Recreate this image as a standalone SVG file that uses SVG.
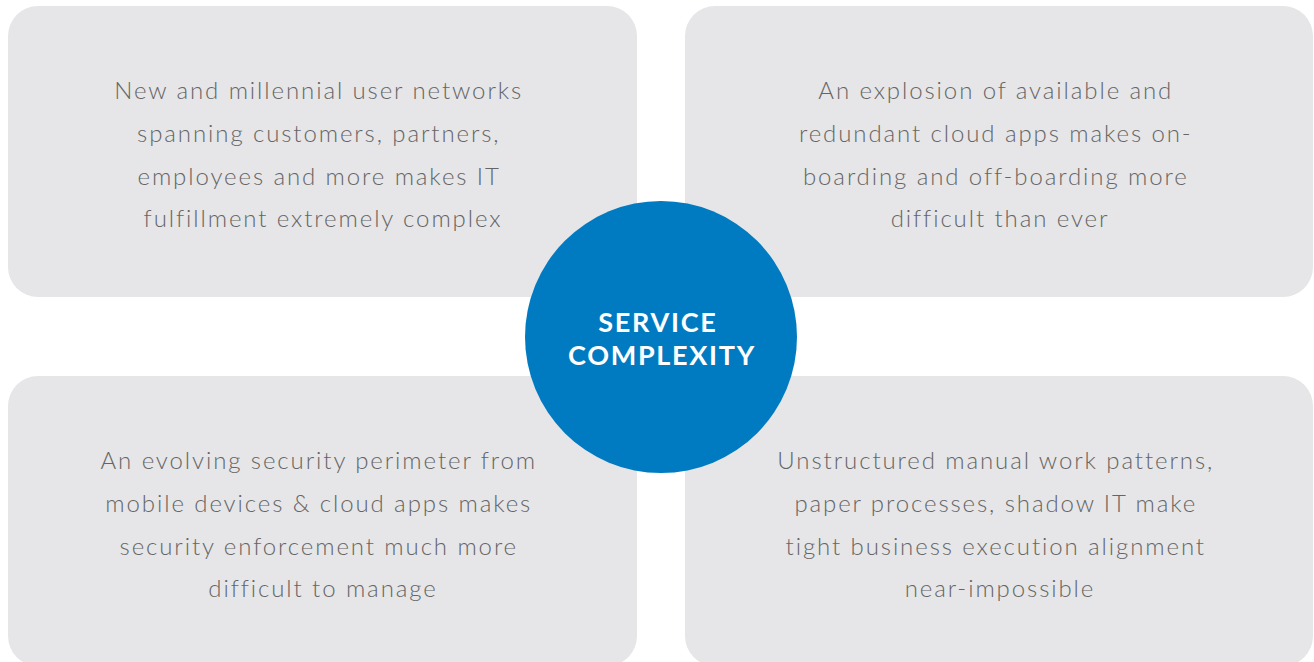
<svg xmlns="http://www.w3.org/2000/svg" width="1314" height="662" viewBox="0 0 1314 662">
  <style>
    .card { fill: #e6e6e8; }
    .body { font-family: Lato, "Open Sans", "Liberation Sans", sans-serif; font-weight: 300; font-size: 24px; fill: #656565; text-anchor: middle; letter-spacing: 1.9px; }
    .hub { fill: #007bc1; }
    .hub-label { font-family: Lato, "Open Sans", "Liberation Sans", sans-serif; font-weight: 700; font-size: 27px; fill: #ffffff; text-anchor: middle; letter-spacing: 1.7px; }
  </style>

  <!-- four quadrant cards -->
  <g id="card-users">
    <rect class="card" x="8" y="6" width="629" height="291" rx="30" ry="30"/>
    <text class="body">
      <tspan x="323" y="99">New and millennial user networks</tspan>
      <tspan x="323" y="142">spanning customers, partners,</tspan>
      <tspan x="323" y="185">employees and more makes IT</tspan>
      <tspan x="323" y="227">fulfillment extremely complex</tspan>
    </text>
  </g>

  <g id="card-apps">
    <rect class="card" x="685" y="6" width="628" height="291" rx="30" ry="30"/>
    <text class="body">
      <tspan x="1000" y="99">An explosion of available and</tspan>
      <tspan x="1000" y="142">redundant cloud apps makes on-</tspan>
      <tspan x="1000" y="185">boarding and off-boarding more</tspan>
      <tspan x="1000" y="227">difficult than ever</tspan>
    </text>
  </g>

  <g id="card-security">
    <rect class="card" x="8" y="376" width="629" height="290" rx="30" ry="30"/>
    <text class="body">
      <tspan x="323" y="469">An evolving security perimeter from</tspan>
      <tspan x="323" y="512">mobile devices &amp; cloud apps makes</tspan>
      <tspan x="323" y="555">security enforcement much more</tspan>
      <tspan x="323" y="597">difficult to manage</tspan>
    </text>
  </g>

  <g id="card-work">
    <rect class="card" x="685" y="376" width="628" height="290" rx="30" ry="30"/>
    <text class="body">
      <tspan x="1000" y="469">Unstructured manual work patterns,</tspan>
      <tspan x="1000" y="512">paper processes, shadow IT make</tspan>
      <tspan x="1000" y="555">tight business execution alignment</tspan>
      <tspan x="1000" y="597">near-impossible</tspan>
    </text>
  </g>

  <!-- central hub -->
  <g id="hub">
    <circle class="hub" cx="661" cy="337" r="136"/>
    <text class="hub-label">
      <tspan x="662" y="332">SERVICE</tspan>
      <tspan x="662" y="365">COMPLEXITY</tspan>
    </text>
  </g>

  <g id="connectors"></g>
</svg>
